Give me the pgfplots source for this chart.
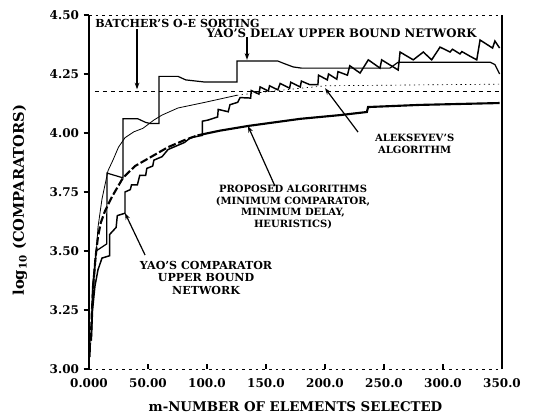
\documentclass[border=0pt]{standalone}
\usepackage{fontspec}
\setmainfont{DejaVu Serif}
\usepackage{pgfplots}
\pgfplotsset{compat=1.18}
\usetikzlibrary{arrows.meta}

\begin{document}
\begin{tikzpicture}
\begin{axis}[name=ax, scale only axis, width=309.75pt, height=265.5pt,
 xmin=0, xmax=350, ymin=3, ymax=4.5,
 xtick={0,50,100,150,200,250,300,350},
 xticklabels={0.000,50.00,100.0,150.0,200.0,250.0,300.0,350.0},
 ytick={3,3.25,3.5,3.75,4,4.25,4.5},
 yticklabels={3.00,3.25,3.50,3.75,4.00,4.25,4.50},
 tick label style={font=\fontsize{9}{10}\selectfont\bfseries},
 xtick pos=bottom, ytick pos=left,
 tick align=outside, major tick length=4pt,
 tick style={black, line width=0.8pt},
 x tick style={yshift=4pt},
 separate axis lines,
 x axis line style={dash pattern=on 2pt off 3pt, line width=0.5pt},
 y axis line style={line width=1pt},
 xlabel={\bfseries m-NUMBER OF ELEMENTS SELECTED},
 ylabel={\bfseries log\textsubscript{10} (COMPARATORS)},
 xlabel style={font=\fontsize{10}{12}\selectfont, at={(axis description cs:0.5,-0.105)}, anchor=center},
 ylabel style={font=\fontsize{11}{12}\selectfont, at={(axis description cs:-0.167,0.477)}, anchor=center},
 clip=false,
]
% Batcher's O-E sorting (constant)
\addplot[line width=0.45pt, dash pattern=on 3pt off 3pt] coordinates {(5,4.178) (348,4.178)};
% thin curve continuation (dotted)
\addplot[line width=0.5pt, dash pattern=on 1pt off 2.5pt] coordinates {(125.4,4.16) (160,4.18) (200,4.20) (348,4.207)};
% thin smooth curve
\addplot[line width=0.6pt] coordinates {
(1,3.05) (2,3.2) (3.5,3.33) (5.1,3.42) (7.6,3.60) (11,3.72) (16.1,3.84) (20.3,3.885)
(25,3.94) (30.5,3.98) (38,4.005) (45.8,4.02) (55,4.055) (61.9,4.076) (75.4,4.106)
(98.3,4.13) (125.4,4.16)};
% Yao's delay upper bound network
\addplot[line width=0.9pt] coordinates {
(2,3.15) (3,3.35) (6,3.50) (15,3.53) (15.3,3.83) (28.8,3.81) (28.8,4.06) (41.5,4.06)
(48,4.045) (52,4.04) (59.3,4.04) (59.3,4.24) (75.4,4.24) (82,4.225) (98,4.216)
(125.4,4.216) (125.4,4.305) (160,4.305) (165,4.295) (173,4.28) (180,4.275) (255,4.275)
(262,4.30) (340,4.30) (344,4.29) (348,4.25)};
% Yao's comparator upper bound / Alekseyev's algorithm (stairs + sawtooth)
\addplot[line width=1.1pt] coordinates {
(2,3.12) (3,3.25) (5,3.35) (7.6,3.42) (11,3.47) (17.5,3.48) (17.5,3.57) (23,3.60)
(24,3.65) (30.5,3.66) (30.5,3.75) (35,3.76) (36,3.78) (41,3.78) (43,3.82) (48,3.82)
(49,3.85) (54,3.86) (55,3.885) (62,3.90) (67,3.93) (81,3.96) (86,3.98) (96,3.99)
(96,4.05) (101,4.055) (109,4.068) (109.5,4.10) (118,4.09) (119.5,4.12) (126,4.13)
(128,4.15) (137,4.148) (137.5,4.18) (144,4.165) (145,4.195) (152,4.178) (153,4.20)
(160,4.183) (162,4.21) (170,4.19) (171,4.215) (179,4.195) (180,4.22) (187,4.205)
(194,4.205) (194.5,4.245) (202,4.225) (203,4.25) (210,4.228) (211,4.26) (219,4.245)
(221,4.285) (229.7,4.254) (236.7,4.31) (246.6,4.275) (248,4.31) (262,4.267) (263.6,4.343)
(274.8,4.31) (283.3,4.343) (290.4,4.31) (297.5,4.364) (306,4.343) (308,4.355)
(314.4,4.335) (316,4.345) (323,4.325) (328.6,4.31) (331.4,4.394) (342,4.36)
(344,4.39) (348,4.36)};
% Proposed algorithms (dashed part)
\addplot[line width=1.6pt, dash pattern=on 6pt off 2pt] coordinates {
(1.5,3.12) (2.5,3.25) (4,3.38) (5.5,3.47) (7.6,3.56) (10,3.62) (13.6,3.67) (19.5,3.73)
(28.8,3.81) (39,3.86) (53,3.90) (67,3.94) (81,3.97) (92,3.99)};
% Proposed algorithms (solid part)
\addplot[line width=1.6pt] coordinates {
(92,3.99) (111,4.01) (135,4.03) (179,4.06) (213,4.076) (235.5,4.089) (236.5,4.11)
(280,4.119) (348,4.127)};

% annotations
\tikzset{lab/.style={font=\fontsize{7.5}{8.8}\selectfont\bfseries, align=center, inner sep=0pt},
 arr/.style={line width=0.9pt, -{Stealth[length=5pt,width=3.5pt]}}}
\node[lab, font=\fontsize{8.3}{9}\selectfont\bfseries] at (axis cs:75,4.462) {BATCHER'S O-E SORTING};
\draw[arr] (axis cs:40.7,4.44) -- (axis cs:40.7,4.185);
\node[lab, font=\fontsize{8.8}{9}\selectfont\bfseries] at (axis cs:214,4.424) {YAO'S DELAY UPPER BOUND NETWORK};
\draw[arr] (axis cs:133.9,4.405) -- (axis cs:133.9,4.31);
\node[lab] at (axis cs:276,3.953) {ALEKSEYEV'S\\ALGORITHM};
\draw[arr] (axis cs:228,4.004) -- (axis cs:200,4.19);
\node[lab] at (axis cs:172.9,3.686) {PROPOSED ALGORITHMS\\(MINIMUM COMPARATOR,\\MINIMUM DELAY,\\HEURISTICS)};
\draw[arr] (axis cs:157.6,3.775) -- (axis cs:134.7,4.03);
\node[lab, font=\fontsize{8.3}{9.2}\selectfont\bfseries] at (axis cs:99.2,3.386) {YAO'S COMPARATOR\\UPPER BOUND\\NETWORK};
\draw[arr] (axis cs:47.5,3.483) -- (axis cs:30.5,3.661);
\end{axis}
\pgfresetboundingbox
\useasboundingbox ([xshift=-66.75pt,yshift=-36.75pt]ax.south west) rectangle ([xshift=36pt,yshift=11.25pt]ax.north east);
\end{tikzpicture}
\end{document}
